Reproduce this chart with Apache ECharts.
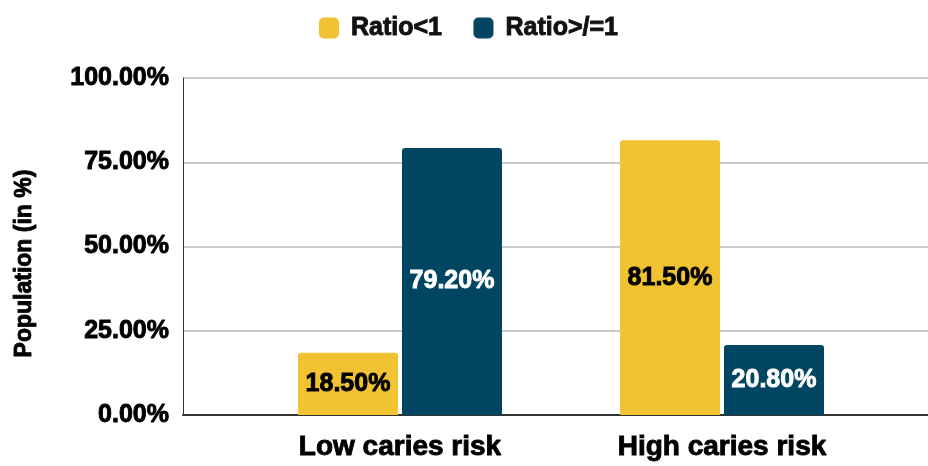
<!DOCTYPE html>
<html>
<head>
<meta charset="utf-8">
<script src="https://cdn.jsdelivr.net/npm/echarts@6/dist/echarts.min.js"></script>
<style>
  html, body { margin: 0; padding: 0; background: #fff; }
  #chart { width: 928px; height: 466px; }
</style>
</head>
<body>
<div id="chart"></div>
<script>
// Share of population by caries risk group and ratio class
const categories = ['Low caries risk', 'High caries risk'];
const seriesNames = ['Ratio<1', 'Ratio>/=1'];
const ratioBelowOne = [18.5, 81.5];
const ratioAtLeastOne = [79.2, 20.8];
const yTicks = [0, 25, 50, 75, 100];

const FONT = 'Liberation Sans, Arial, sans-serif';
const YELLOW = '#f1c232';
const NAVY = '#004561';

// heavy bold text: bold face plus a thin outline in the same colour
const heavy = (size, color) => ({
  fontFamily: FONT, fontSize: size, fontWeight: 'bold', color: color,
  textBorderColor: color, textBorderWidth: 0.9
});

const chart = echarts.init(document.getElementById('chart'), null, { renderer: 'canvas' });

const pctLabel = v => v.toFixed(2) + '%';

chart.setOption({
  animation: false,
  textStyle: { fontFamily: FONT },
  legend: {
    top: 10,
    left: 314,
    itemWidth: 20,
    itemHeight: 21,
    itemGap: 31,
    icon: 'roundRect',
    textStyle: Object.assign(heavy(25, '#111'), { padding: [0, 0, 0, 7] }),
    data: seriesNames
  },
  grid: [
    // frame grid: axis lines and gridlines across the full width
    { left: 183, right: 0, top: 78, bottom: 51, outerBoundsMode: 'none' },
    // bar grid: category slots for the bars
    { left: 239, right: 45, top: 78, bottom: 51, outerBoundsMode: 'none' }
  ],
  xAxis: [
    {
      gridIndex: 0, type: 'category', data: [''],
      axisLine: { show: true, lineStyle: { color: '#333', width: 2 } },
      axisTick: { show: false }, axisLabel: { show: false }
    },
    {
      gridIndex: 1, type: 'category', data: categories,
      axisLine: { show: false }, axisTick: { show: false },
      axisLabel: Object.assign({ margin: 18 }, heavy(28, '#000'))
    }
  ],
  yAxis: [
    {
      gridIndex: 0, type: 'value', min: yTicks[0], max: yTicks[yTicks.length - 1], interval: 25,
      name: 'Population (in %)',
      nameLocation: 'middle',
      nameGap: 147,
      nameTextStyle: Object.assign(heavy(23, '#000'), { padding: [0, 34, 0, 0] }),
      axisLine: { show: true, lineStyle: { color: '#333', width: 1 } },
      axisTick: { show: false },
      axisLabel: Object.assign({ margin: 14, formatter: v => pctLabel(v) }, heavy(25, '#000')),
      splitLine: { show: true, lineStyle: { color: '#cccccc', width: 2 } }
    },
    {
      gridIndex: 1, type: 'value', min: 0, max: 100,
      axisLine: { show: false }, axisTick: { show: false },
      axisLabel: { show: false }, splitLine: { show: false }
    }
  ],
  series: [
    {
      name: seriesNames[0], type: 'bar', xAxisIndex: 1, yAxisIndex: 1,
      data: ratioBelowOne,
      barWidth: 100, barGap: '4%',
      itemStyle: { color: YELLOW, borderRadius: [3, 3, 0, 0] },
      label: Object.assign({
        show: true, position: 'inside',
        formatter: p => pctLabel(p.value)
      }, heavy(25, '#000'))
    },
    {
      name: seriesNames[1], type: 'bar', xAxisIndex: 1, yAxisIndex: 1,
      data: ratioAtLeastOne,
      barWidth: 100, barGap: '4%',
      itemStyle: { color: NAVY, borderRadius: [3, 3, 0, 0] },
      label: Object.assign({
        show: true, position: 'inside',
        formatter: p => pctLabel(p.value)
      }, heavy(25, '#fff'))
    }
  ]
});
</script>
</body>
</html>
